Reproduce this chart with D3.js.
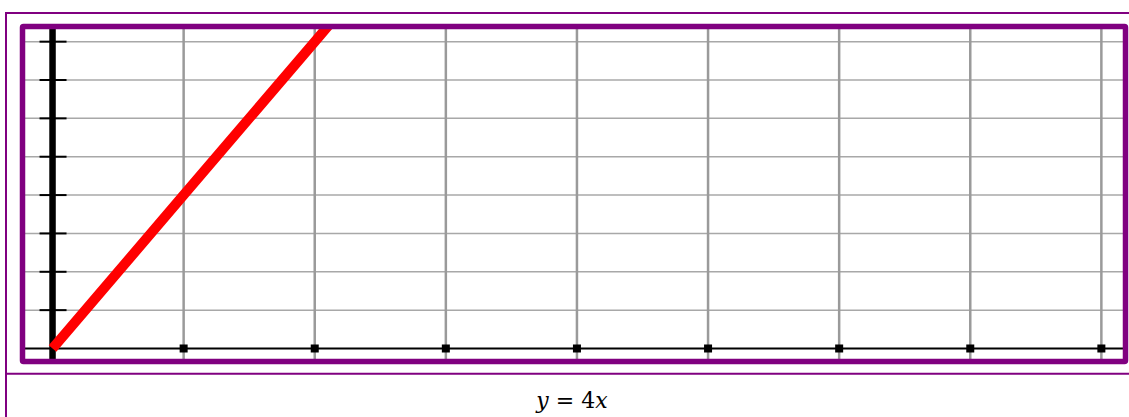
<!DOCTYPE html>
<html>
<head>
<meta charset="utf-8">
<script src="https://cdn.jsdelivr.net/npm/d3@7"></script>
<style>
  html, body { margin: 0; padding: 0; background: #fff; }
  svg { display: block; }
</style>
</head>
<body>
<div id="chart"></div>
<script>
// data
var xTicks = [1, 2, 3, 4, 5, 6, 7, 8];
var yTicks = [1, 2, 3, 4, 5, 6, 7, 8];
var lineX = [0, 1, 2, 3];
var lineY = [0, 4, 8, 12];
var caption = ['y', ' = ', '4', 'x'];

var W = 1129, H = 417;
var purple = '#800080';

// plot rect (inside the thick purple frame)
var plotL = 25, plotR = 1123, plotT = 29, plotB = 359;

var x = d3.scaleLinear().domain([-0.21, 8.165]).range([plotL, plotR]);
var y = d3.scaleLinear().domain([-0.274, 8.33]).range([plotB, plotT]);

var svg = d3.select('#chart').append('svg')
    .attr('width', W)
    .attr('height', H);

// outer table borders
svg.append('line').attr('x1', 6).attr('x2', W).attr('y1', 13).attr('y2', 13)
    .attr('stroke', purple).attr('stroke-width', 2);
svg.append('line').attr('x1', 6).attr('x2', 6).attr('y1', 12).attr('y2', H)
    .attr('stroke', purple).attr('stroke-width', 2);
svg.append('line').attr('x1', 6).attr('x2', W).attr('y1', 373.8).attr('y2', 373.8)
    .attr('stroke', purple).attr('stroke-width', 2);

svg.append('defs').append('clipPath').attr('id', 'plot')
    .append('rect')
    .attr('x', plotL).attr('y', plotT)
    .attr('width', plotR - plotL).attr('height', plotB - plotT);

var g = svg.append('g').attr('clip-path', 'url(#plot)');

// horizontal grid
g.selectAll('.hgrid').data(yTicks).enter().append('line')
    .attr('class', 'hgrid')
    .attr('x1', plotL).attr('x2', plotR)
    .attr('y1', d => y(d)).attr('y2', d => y(d))
    .attr('stroke', '#a8a8a8').attr('stroke-width', 1.5);

// vertical grid
g.selectAll('.vgrid').data(xTicks).enter().append('line')
    .attr('class', 'vgrid')
    .attr('x1', d => x(d)).attr('x2', d => x(d))
    .attr('y1', plotT).attr('y2', plotB)
    .attr('stroke', '#9a9a9a').attr('stroke-width', 2.5);

// x axis
g.append('line')
    .attr('x1', plotL).attr('x2', plotR)
    .attr('y1', y(0)).attr('y2', y(0))
    .attr('stroke', '#000').attr('stroke-width', 2);

g.selectAll('.xtick').data(xTicks).enter().append('rect')
    .attr('class', 'xtick')
    .attr('x', d => x(d) - 4).attr('y', y(0) - 4)
    .attr('width', 8).attr('height', 8)
    .attr('fill', '#000');

// y axis
g.append('line')
    .attr('x1', x(0)).attr('x2', x(0))
    .attr('y1', plotT).attr('y2', plotB)
    .attr('stroke', '#000').attr('stroke-width', 6.5);

g.selectAll('.ytick').data(yTicks).enter().append('line')
    .attr('class', 'ytick')
    .attr('x1', x(0) - 13).attr('x2', x(0) + 14)
    .attr('y1', d => y(d)).attr('y2', d => y(d))
    .attr('stroke', '#000').attr('stroke-width', 2);

// y = 4x
var pts = lineX.map((d, i) => [d, lineY[i]]);
g.append('path')
    .datum(pts)
    .attr('d', d3.line().x(d => x(d[0])).y(d => y(d[1])))
    .attr('fill', 'none')
    .attr('stroke', '#ff0000')
    .attr('stroke-width', 10);

// thick frame
svg.append('rect')
    .attr('x', 22.5).attr('y', 26.5)
    .attr('width', 1103).attr('height', 335)
    .attr('rx', 1)
    .attr('fill', 'none')
    .attr('stroke', purple)
    .attr('stroke-width', 5.5);

// caption
var t = svg.append('text')
    .attr('x', 572).attr('y', 408)
    .attr('text-anchor', 'middle')
    .attr('font-family', 'DejaVu Serif, serif')
    .attr('font-size', 22)
    .attr('fill', '#000');
t.selectAll('tspan').data(caption).enter().append('tspan')
    .attr('font-style', d => /[a-z]/.test(d) ? 'italic' : 'normal')
    .attr('xml:space', 'preserve')
    .style('white-space', 'pre')
    .text(d => d);
</script>
</body>
</html>
